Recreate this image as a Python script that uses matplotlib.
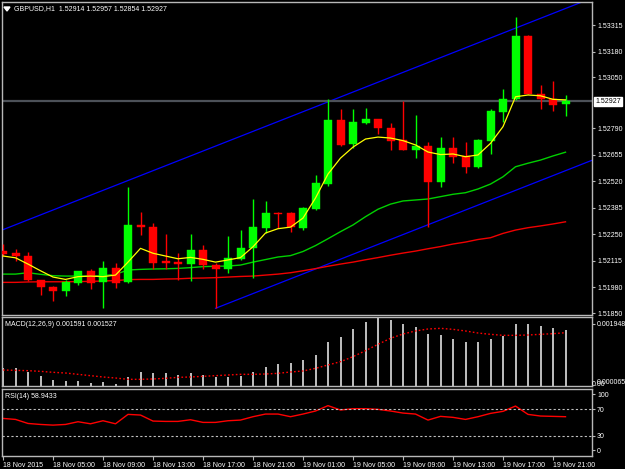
import matplotlib
matplotlib.use("Agg")
import matplotlib.pyplot as plt
from matplotlib import font_manager
import numpy as np

_names = {f.name for f in font_manager.fontManager.ttflist}
FONT = "DejaVu Sans"
for cand in ["Liberation Sans Narrow", "Liberation Sans", "DejaVu Sans"]:
    if cand in _names:
        FONT = cand
        break
FS = 5.8 if FONT == "Liberation Sans Narrow" else 5.0
plt.rcParams["font.family"] = [FONT, "DejaVu Sans"]

# ---------------- data ----------------
opens = [1.52165, 1.52155, 1.52142, 1.52018, 1.51982, 1.51963, 1.52004, 1.52064, 1.52009, 1.52079,
         1.52009, 1.52299, 1.52289, 1.52115, 1.52111, 1.52101, 1.52171, 1.52093, 1.52075, 1.52126,
         1.52179, 1.52284, 1.52359, 1.52357, 1.52284, 1.52381, 1.52505, 1.52832, 1.52708, 1.52818,
         1.52837, 1.52791, 1.52730, 1.52679, 1.52701, 1.52518, 1.52688, 1.52649, 1.52594, 1.52727,
         1.52874, 1.52939, 1.53261, 1.52963, 1.52940, 1.52914]
highs = [1.52201, 1.52176, 1.52159, 1.52020, 1.51985, 1.52018, 1.52066, 1.52072, 1.52116, 1.52103,
         1.52489, 1.52364, 1.52308, 1.52250, 1.52157, 1.52250, 1.52196, 1.52104, 1.52242, 1.52272,
         1.52430, 1.52420, 1.52364, 1.52365, 1.52391, 1.52552, 1.52939, 1.52886, 1.52889, 1.52894,
         1.52839, 1.52815, 1.52928, 1.52857, 1.52721, 1.52747, 1.52747, 1.52722, 1.52733, 1.52888,
         1.52990, 1.53357, 1.53262, 1.53010, 1.53030, 1.52957]
lows = [1.52140, 1.52116, 1.52015, 1.51942, 1.51913, 1.51938, 1.51992, 1.51972, 1.51877, 1.51976,
        1.52001, 1.52247, 1.52072, 1.52075, 1.52018, 1.52013, 1.52074, 1.51874, 1.52052, 1.52120,
        1.52030, 1.52255, 1.52284, 1.52264, 1.52272, 1.52374, 1.52496, 1.52700, 1.52688, 1.52810,
        1.52759, 1.52679, 1.52677, 1.52640, 1.52289, 1.52493, 1.52613, 1.52561, 1.52586, 1.52659,
        1.52823, 1.52936, 1.52962, 1.52888, 1.52879, 1.52854]
closes = [1.52152, 1.52140, 1.52018, 1.51981, 1.51963, 1.52008, 1.52064, 1.52004, 1.52079, 1.52004,
          1.52298, 1.52287, 1.52107, 1.52106, 1.52101, 1.52171, 1.52094, 1.52075, 1.52128, 1.52181,
          1.52286, 1.52357, 1.52355, 1.52289, 1.52384, 1.52510, 1.52832, 1.52705, 1.52823, 1.52837,
          1.52793, 1.52727, 1.52679, 1.52700, 1.52518, 1.52688, 1.52645, 1.52594, 1.52730, 1.52878,
          1.52939, 1.53261, 1.52963, 1.52939, 1.52907, 1.52927]

ma_fast = [1.52140, 1.52131, 1.52099, 1.52065, 1.52033, 1.52021, 1.52035, 1.52038, 1.52035, 1.52043,
           1.52109, 1.52179, 1.52154, 1.52140, 1.52126, 1.52133, 1.52123, 1.52109, 1.52120, 1.52132,
           1.52187, 1.52257, 1.52279, 1.52287, 1.52333, 1.52435, 1.52557, 1.52638, 1.52694, 1.52735,
           1.52745, 1.52740, 1.52727, 1.52705, 1.52669, 1.52656, 1.52659, 1.52645, 1.52654, 1.52713,
           1.52798, 1.52950, 1.52959, 1.52955, 1.52937, 1.52934]
ma_mid = [1.52048, 1.52048, 1.52055, 1.52047, 1.52040, 1.52038, 1.52038, 1.52038, 1.52040, 1.52047,
          1.52069, 1.52072, 1.52074, 1.52075, 1.52077, 1.52081, 1.52086, 1.52088, 1.52089, 1.52094,
          1.52109, 1.52122, 1.52135, 1.52142, 1.52163, 1.52193, 1.52228, 1.52264, 1.52298, 1.52340,
          1.52378, 1.52404, 1.52420, 1.52425, 1.52430, 1.52442, 1.52454, 1.52462, 1.52481, 1.52506,
          1.52543, 1.52594, 1.52612, 1.52628, 1.52649, 1.52668]
ma_slow = [1.52006, 1.52006, 1.52008, 1.52009, 1.52009, 1.52009, 1.52010, 1.52011, 1.52013, 1.52015,
           1.52020, 1.52021, 1.52021, 1.52023, 1.52024, 1.52027, 1.52028, 1.52030, 1.52033, 1.52036,
           1.52038, 1.52043, 1.52048, 1.52055, 1.52065, 1.52076, 1.52088, 1.52099, 1.52109, 1.52121,
           1.52132, 1.52144, 1.52155, 1.52165, 1.52177, 1.52188, 1.52201, 1.52211, 1.52224, 1.52233,
           1.52255, 1.52272, 1.52284, 1.52293, 1.52303, 1.52314]

macd_hist = [0.000506, 0.000506, 0.000411, 0.000286, 0.000172, 0.000143, 0.000134, 0.000095, 0.000115, 0.000065,
             0.000248, 0.000392, 0.000382, 0.000363, 0.000315, 0.000363, 0.000306, 0.000248, 0.000248, 0.000286,
             0.000401, 0.000535, 0.000621, 0.000649, 0.000735, 0.000888, 0.001251, 0.001394, 0.001623, 0.001820,
             0.001948, 0.001900, 0.001767, 0.001700, 0.001490, 0.001451, 0.001356, 0.001251, 0.001251, 0.001337,
             0.001432, 0.001767, 0.001767, 0.001719, 0.001652, 0.001591]
macd_signal = [0.000458, 0.000449, 0.000439, 0.000420, 0.000392, 0.000372, 0.000334, 0.000296, 0.000258, 0.000229,
               0.000191, 0.000191, 0.000201, 0.000220, 0.000248, 0.000258, 0.000277, 0.000296, 0.000315, 0.000334,
               0.000334, 0.000344, 0.000363, 0.000401, 0.000430, 0.000506, 0.000602, 0.000697, 0.000840, 0.001012,
               0.001194, 0.001366, 0.001490, 0.001576, 0.001633, 0.001652, 0.001623, 0.001576, 0.001518, 0.001480,
               0.001451, 0.001451, 0.001461, 0.001480, 0.001499, 0.001527]

rsi = [56.3, 54.8, 48.7, 47.2, 46.2, 47.2, 51.3, 48.2, 52.8, 48.2,
       62.4, 61.4, 52.3, 51.8, 51.8, 54.3, 50.3, 50.3, 52.8, 53.8,
       58.9, 62.9, 62.9, 58.9, 62.9, 67.5, 75.6, 69.0, 71.0, 71.0,
       70.0, 67.5, 64.4, 62.9, 53.8, 59.4, 57.9, 54.8, 58.9, 63.9,
       67.0, 75.0, 62.4, 59.9, 59.4, 58.9]

time_labels = ["18 Nov 2015", "18 Nov 05:00", "18 Nov 09:00", "18 Nov 13:00", "18 Nov 17:00",
               "18 Nov 21:00", "19 Nov 01:00", "19 Nov 05:00", "19 Nov 09:00", "19 Nov 13:00",
               "19 Nov 17:00", "19 Nov 21:00"]
price_ticks = [1.53315, 1.53180, 1.53050, 1.52790, 1.52655, 1.52520, 1.52385, 1.52250,
               1.52115, 1.51980, 1.51850]
bid_price = 1.52927
chan_upper_x = [0, 46]
chan_upper_y = [1.52274, 1.53424]
chan_lower_x = [17, 48]
chan_lower_y = [1.51874, 1.52649]

header = "GBPUSD,H1  1.52914 1.52957 1.52854 1.52927"
macd_title = "MACD(12,26,9) 0.001591 0.001527"
rsi_title = "RSI(14) 58.9433"

# ---------------- layout ----------------
W, H = 625, 469
fig = plt.figure(figsize=(W / 100, H / 100), dpi=100, facecolor="black")


def pos(top, bottom, left=2, right=592):
    return [left / W, 1 - bottom / H, (right - left) / W, (bottom - top) / H]


ax = fig.add_axes(pos(2, 315))
axm = fig.add_axes(pos(317, 386))
axr = fig.add_axes(pos(388.5, 455.5))

XMIN, XMAX = -0.08, 47.12
BORDER = "#b8b8b8"
for a in (ax, axm, axr):
    a.set_facecolor("black")
    a.set_xlim(XMIN, XMAX)
    for s in a.spines.values():
        s.set_color(BORDER)
        s.set_linewidth(1.0)
    a.yaxis.tick_right()
    a.tick_params(axis="y", colors=BORDER, labelcolor="white", labelsize=FS,
                  length=2.5, width=0.8, pad=1.2, direction="out")
    a.tick_params(axis="x", bottom=False, labelbottom=False)

n = len(closes)
x = np.arange(n)

# ---------------- main chart ----------------
ax.set_ylim(1.51840, 1.53432)
bull, bear = "#00ff00", "#ff0000"
for i in range(n):
    o, h, l, c = opens[i], highs[i], lows[i], closes[i]
    col = bull if c >= o else bear
    ax.vlines(x[i], l, h, color=col, lw=1.0, zorder=3)
    body = max(abs(c - o), 0.00004)
    ax.bar(x[i], body, bottom=min(o, c), width=0.64, color=col, edgecolor=col,
           linewidth=0.3, zorder=4)

ax.plot(x, ma_slow, color="#f00000", lw=1.0, zorder=2)
ax.plot(x, ma_mid, color="#00d000", lw=1.0, zorder=2)
ax.plot(x, ma_fast, color="#ffff00", lw=0.9, zorder=5)

ax.axline((chan_upper_x[0], chan_upper_y[0]), (chan_upper_x[1], chan_upper_y[1]),
          color="#0000ff", lw=0.9, zorder=1)
ax.plot(chan_lower_x, chan_lower_y, color="#0000ff", lw=0.9, zorder=1)

ax.axhline(bid_price, color="#4c5158", lw=1.6, zorder=1.5)

ax.set_yticks(price_ticks)
ax.set_yticklabels([f"{p:.5f}" for p in price_ticks])
ax.annotate(f"{bid_price:.5f}", xy=(1, bid_price), xycoords=("axes fraction", "data"),
            xytext=(2.4, 0), textcoords="offset points", va="center", ha="left",
            fontsize=FS, color="black",
            bbox=dict(boxstyle="square,pad=0.15", fc="white", ec="white"))

# ---------------- MACD ----------------
MTOP = 0.001948 * 69 / 68
axm.set_ylim(0, MTOP)
axm.vlines(x, 0, macd_hist, color="#e0e0e0", lw=1.2)
axm.plot(x, macd_signal, color="#ff0000", lw=1.0, linestyle=(0, (1.2, 1.6)))
axm.set_yticks([0.001948 * (386 - 324) / 68])
axm.set_yticklabels(["0.001948"])
axm.text(1.0, 0.02, "0.00", transform=axm.transAxes, color="white", fontsize=FS,
         ha="left", va="center", clip_on=False)
axm.annotate("0.000065", xy=(1, 0.05), xycoords="axes fraction", xytext=(3.5, 0),
             textcoords="offset points", color="white", fontsize=FS, ha="left", va="center")

# ---------------- RSI ----------------
axr.set_ylim(0.3, 101.5)
axr.plot(x, rsi, color="#ff0000", lw=1.0)
for lev in (70, 30):
    axr.axhline(lev, color="#c0c0c0", lw=0.8, linestyle=(0, (2, 2)))
axr.set_yticks([93, 70, 30, 8.6])
axr.set_yticklabels(["100", "70", "30", "0"])

axr.set_xticks(np.arange(0, 45, 4))
axr.set_xticklabels(time_labels)
axr.tick_params(axis="x", bottom=True, labelbottom=True, colors=BORDER, labelcolor="white",
                labelsize=FS, length=3, width=0.8, pad=1.5)
for t in axr.get_xticklabels():
    t.set_horizontalalignment("left")

# ---------------- titles ----------------
def ftext(px, py, s, **kw):
    fig.text(px / W, 1 - py / H, s, color="white", fontsize=FS, va="center", ha="left", **kw)


ftext(14, 9, header)
ftext(5, 324, macd_title)
ftext(5, 396, rsi_title)
tri = plt.Polygon([[4 / W, 1 - 7 / H], [10 / W, 1 - 7 / H], [7 / W, 1 - 11 / H]],
                  closed=True, color="white", transform=fig.transFigure)
fig.patches.append(tri)

fig.savefig("out.png", dpi=100, facecolor="black")
